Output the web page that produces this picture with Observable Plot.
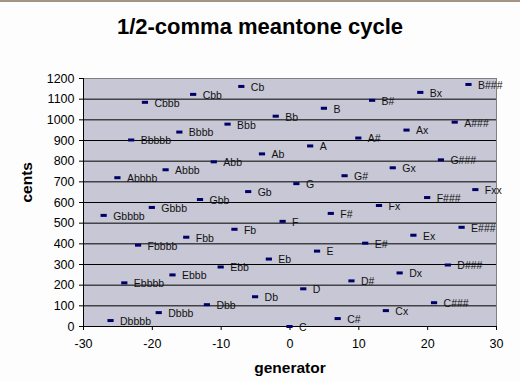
<!DOCTYPE html>
<html>
<head>
<meta charset="utf-8">
<script src="https://cdn.jsdelivr.net/npm/d3@7"></script>
<script src="https://cdn.jsdelivr.net/npm/@observablehq/plot@0.6"></script>
<style>
  html, body { margin: 0; padding: 0; background: #fdfdfd; }
  #wrap { width: 520px; height: 381px; position: relative; overflow: hidden; border-top: 2px solid #a39585; box-sizing: border-box; }
  #title { position: absolute; left: 0; top: 12px; width: 520px; text-align: center;
           font: bold 22px "Liberation Sans", Arial, sans-serif; color: #000; }
  #chart { position: absolute; left: 0; top: 50px; }
</style>
</head>
<body>
<div id="wrap">
  <div id="title">1/2-comma meantone cycle</div>
  <div id="chart"></div>
</div>
<script>
// generator index (fifths from C)
const generators = [-27,-26,-25,-24,-23,-22,-21,-20,-19,-18,-17,-16,-15,-14,-13,-12,-11,-10,-9,-8,-7,-6,-5,-4,-3,-2,-1,
  0,1,2,3,4,5,6,7,8,9,10,11,12,13,14,15,16,17,18,19,20,21,22,23,24,25,26,27];
// note names
const noteNames = ["Gbbbb","Dbbbb","Abbbb","Ebbbb","Bbbbb","Fbbbb","Cbbb","Gbbb","Dbbb","Abbb","Ebbb","Bbbb","Fbb","Cbb","Gbb","Dbb","Abb","Ebb","Bbb","Fb","Cb","Gb","Db","Ab","Eb","Bb","F",
  "C","G","D","A","E","B","F#","C#","G#","D#","A#","E#","B#","Fx","Cx","Gx","Dx","Ax","Ex","Bx","F###","C###","G###","D###","A###","E###","B###","Fxx"];
// pitch in cents (mod 1200)
const centsValues = [537.6,28.8,720,211.2,902.4,393.6,1084.8,576,67.2,758.4,249.6,940.8,432,1123.2,614.4,105.6,796.8,288,979.2,470.4,1161.6,652.8,144,835.2,326.4,1017.6,508.8,
  0,691.2,182.4,873.6,364.8,1056,547.2,38.4,729.6,220.8,912,403.2,1094.4,585.6,76.8,768,259.2,950.4,441.6,1132.8,624,115.2,806.4,297.6,988.8,480,1171.2,662.4];
const yTicks = [0,100,200,300,400,500,600,700,800,900,1000,1100,1200];
const xTicks = [-30,-20,-10,0,10,20,30];

const data = generators.map((g, i) => ({g, name: noteNames[i], c: centsValues[i]}));
const grid = yTicks.filter(t => t > 0 && t < 1200);

const font = '"Liberation Sans", Arial, sans-serif';
const chart = Plot.plot({
  width: 520,
  height: 331,
  marginLeft: 83,
  marginRight: 24,
  marginTop: 26,
  marginBottom: 57,
  style: {fontFamily: font, background: "transparent", overflow: "visible"},
  x: {domain: [-30, 30], ticks: xTicks, label: null, tickSize: 4, tickPadding: 9, tickFormat: d => String(d)},
  y: {domain: [0, 1200], ticks: yTicks, label: null, tickSize: 4, tickPadding: 5, tickFormat: d => String(d)},
  marks: [
    Plot.frame({fill: "#c7c7d5", stroke: "#808080"}),
    Plot.ruleY(grid, {stroke: "#000", strokeWidth: 1}),
    Plot.axisY({ticks: yTicks, tickSize: 4, tickPadding: 5, fontSize: 12.5, stroke: "#000", tickFormat: d => String(d), color: "#000"}),
    Plot.axisX({ticks: xTicks, tickSize: 4, tickPadding: 9, fontSize: 12.5, stroke: "#000", tickFormat: d => String(d)}),
    Plot.ruleX([-30], {stroke: "#000"}),
    Plot.ruleY([0], {stroke: "#000"}),
    Plot.ruleY(data, {y: "c", x1: d => d.g - 0.45, x2: d => d.g + 0.45, stroke: "#000066", strokeWidth: 3}),
    Plot.text(data, {x: "g", y: "c", text: "name", textAnchor: "start", dx: 9, dy: 1, fontSize: 10.5, fill: "#111"}),
    Plot.text(["cents"], {frameAnchor: "left", dx: -56, rotate: -90, fontSize: 15.5, fontWeight: "bold", fill: "#000"}),
    Plot.text(["generator"], {frameAnchor: "bottom", dy: 46, fontSize: 15.5, fontWeight: "bold", fill: "#000"})
  ]
});
document.getElementById("chart").appendChild(chart);
</script>
</body>
</html>
